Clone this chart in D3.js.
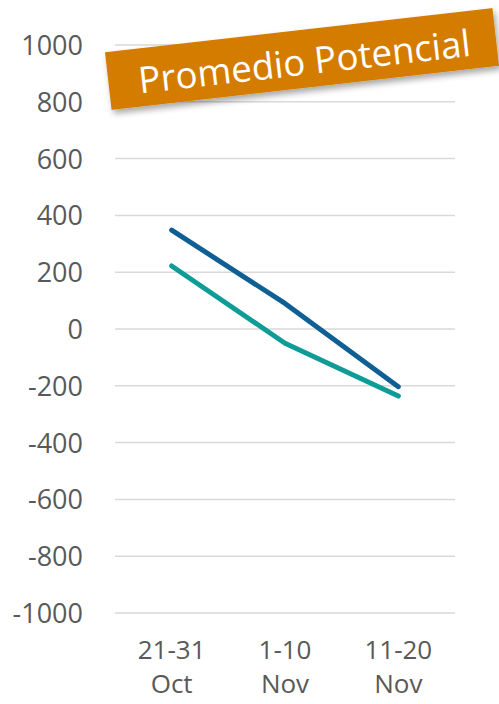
<!DOCTYPE html>
<html>
<head>
<meta charset="utf-8">
<script src="https://cdn.jsdelivr.net/npm/d3@7"></script>
<style>
  html, body { margin: 0; padding: 0; background: #fff; }
  svg { display: block; font-family: "Open Sans", sans-serif; }
</style>
</head>
<body>
<div id="chart"></div>
<script>
// data
const categories = [['21-31', 'Oct'], ['1-10', 'Nov'], ['11-20', 'Nov']];
const seriesBlue = [348, 90, -203];
const seriesTeal = [222, -50, -236];
const yTicks = [-1000, -800, -600, -400, -200, 0, 200, 400, 600, 800, 1000];
const titleText = 'Promedio Potencial';

const width = 499, height = 704;
const margin = { top: 45, right: 44, bottom: 91, left: 115 };

const svg = d3.select('#chart').append('svg')
    .attr('width', width)
    .attr('height', height);

const x = d3.scaleBand()
    .domain(categories.map((d, i) => i))
    .range([margin.left, width - margin.right]);

const y = d3.scaleLinear()
    .domain([-1000, 1000])
    .range([height - margin.bottom, margin.top]);

// gridlines
svg.append('g')
    .selectAll('line')
    .data(yTicks)
    .join('line')
    .attr('x1', margin.left)
    .attr('x2', width - margin.right)
    .attr('y1', d => y(d))
    .attr('y2', d => y(d))
    .attr('stroke', '#d9d9d9')
    .attr('stroke-width', 1.5);

// y axis labels, plain numbers with a simple hyphen
const yAxis = d3.axisLeft(y)
    .tickValues(yTicks)
    .tickFormat(d => String(d))
    .tickSize(0)
    .tickPadding(0);
svg.append('g')
    .attr('transform', 'translate(83,0)')
    .call(yAxis)
    .call(g => g.select('.domain').remove())
    .selectAll('text')
    .attr('font-size', 27)
    .attr('font-family', '"Open Sans", sans-serif')
    .attr('fill', '#595959')
    .attr('dy', '0.35em');

// x axis labels (two lines), kept a touch above the bottom edge
const xl = svg.append('g')
    .selectAll('text')
    .data(categories)
    .join('text')
    .attr('x', (d, i) => x(i) + x.bandwidth() / 2)
    .attr('y', 659)
    .attr('text-anchor', 'middle')
    .attr('font-size', 26)
    .attr('fill', '#595959');
xl.append('tspan').text(d => d[0]);
xl.append('tspan')
    .attr('x', (d, i) => x(i) + x.bandwidth() / 2)
    .attr('dy', 34)
    .text(d => d[1]);

// lines
const line = d3.line()
    .x((d, i) => x(i) + x.bandwidth() / 2)
    .y(d => y(d));

svg.append('path')
    .datum(seriesTeal)
    .attr('d', line)
    .attr('fill', 'none')
    .attr('stroke', '#109c96')
    .attr('stroke-width', 5)
    .attr('stroke-linecap', 'round')
    .attr('stroke-linejoin', 'round');

svg.append('path')
    .datum(seriesBlue)
    .attr('d', line)
    .attr('fill', 'none')
    .attr('stroke', '#0f5f94')
    .attr('stroke-width', 5)
    .attr('stroke-linecap', 'round')
    .attr('stroke-linejoin', 'round');

// title banner
const defs = svg.append('defs');
const f = defs.append('filter').attr('id', 'shadow')
    .attr('x', '-10%').attr('y', '-30%').attr('width', '120%').attr('height', '170%');
f.append('feDropShadow')
    .attr('dx', 2).attr('dy', 4).attr('stdDeviation', 3)
    .attr('flood-color', '#000').attr('flood-opacity', 0.35);

const banner = svg.append('g')
    .attr('transform', 'translate(302,59) rotate(-6.5)');
banner.append('rect')
    .attr('x', -195).attr('y', -29)
    .attr('width', 390).attr('height', 58)
    .attr('fill', '#d47b00')
    .attr('filter', 'url(#shadow)');
const t = banner.append('text')
    .attr('x', 2).attr('y', 2)
    .attr('text-anchor', 'middle')
    .attr('dominant-baseline', 'central')
    .attr('font-size', 34)
    .attr('fill', '#fff')
    .text(titleText);
// fit title to the width seen in the picture
const w = t.node().getComputedTextLength();
t.attr('font-size', 34 * 334 / w);
</script>
</body>
</html>
